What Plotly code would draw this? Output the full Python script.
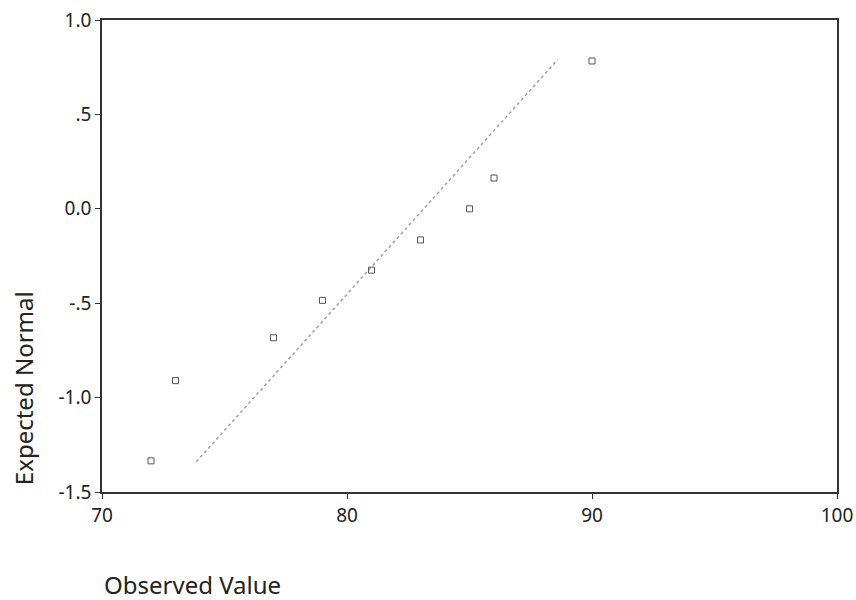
import plotly.graph_objects as go

observed = [72, 73, 77, 79, 81, 83, 85, 86, 90]
expected = [-1.335, -0.91, -0.683, -0.485, -0.325, -0.165, 0.0, 0.163, 0.783]

# Reference line end points
line_x = [73.85, 88.6]
line_y = [-1.34, 0.79]

x_ticks = [70, 80, 90, 100]
y_ticks = [1.0, 0.5, 0.0, -0.5, -1.0, -1.5]
y_tick_labels = ["1.0", ".5", "0.0", "-.5", "-1.0", "-1.5"]

fig = go.Figure()
fig.add_trace(go.Scatter(
    x=line_x, y=line_y, mode="lines",
    line=dict(color="#a0a0a0", width=1.5, dash="dot"),
    showlegend=False, hoverinfo="skip"))
fig.add_trace(go.Scatter(
    x=observed, y=expected, mode="markers",
    marker=dict(symbol="square-open", size=6, color="#555555", line=dict(width=1)),
    showlegend=False))

font_family = "Noto Sans"
fig.update_layout(
    width=856, height=600,
    margin=dict(l=102, r=19, t=20, b=108, autoexpand=False),
    paper_bgcolor="white", plot_bgcolor="white",
    font=dict(family=font_family, size=19, color="#222222"),
    xaxis=dict(range=[70, 100], tickvals=x_ticks, ticktext=[str(v) for v in x_ticks],
               showgrid=False, zeroline=False, showline=True, linecolor="#333333",
               linewidth=1.5, mirror=True, ticks="outside", ticklen=5, automargin=False,
               ticklabeloverflow="allow",
               tickcolor="#333333", tickfont=dict(size=19)),
    yaxis=dict(range=[-1.5, 1.0], tickvals=y_ticks, ticktext=y_tick_labels,
               showgrid=False, zeroline=False, showline=True, linecolor="#333333",
               linewidth=1.5, mirror=True, ticks="outside", ticklen=5, automargin=False,
               ticklabeloverflow="allow",
               tickcolor="#333333", tickfont=dict(size=19)),
    annotations=[
        dict(text="Observed Value", xref="paper", yref="paper", x=0.0, y=-0.197,
             xanchor="left", yanchor="middle", showarrow=False,
             font=dict(size=24, family=font_family, color="#222222")),
        dict(text="Expected Normal", xref="paper", yref="paper", x=-0.1075, y=0.22,
             xanchor="center", yanchor="middle", textangle=-90, showarrow=False,
             font=dict(size=24, family=font_family, color="#222222")),
    ],
)

fig.write_html("out.html", config={"displayModeBar": False},
               post_script="document.body.style.margin='0';document.body.style.overflow='hidden';")
